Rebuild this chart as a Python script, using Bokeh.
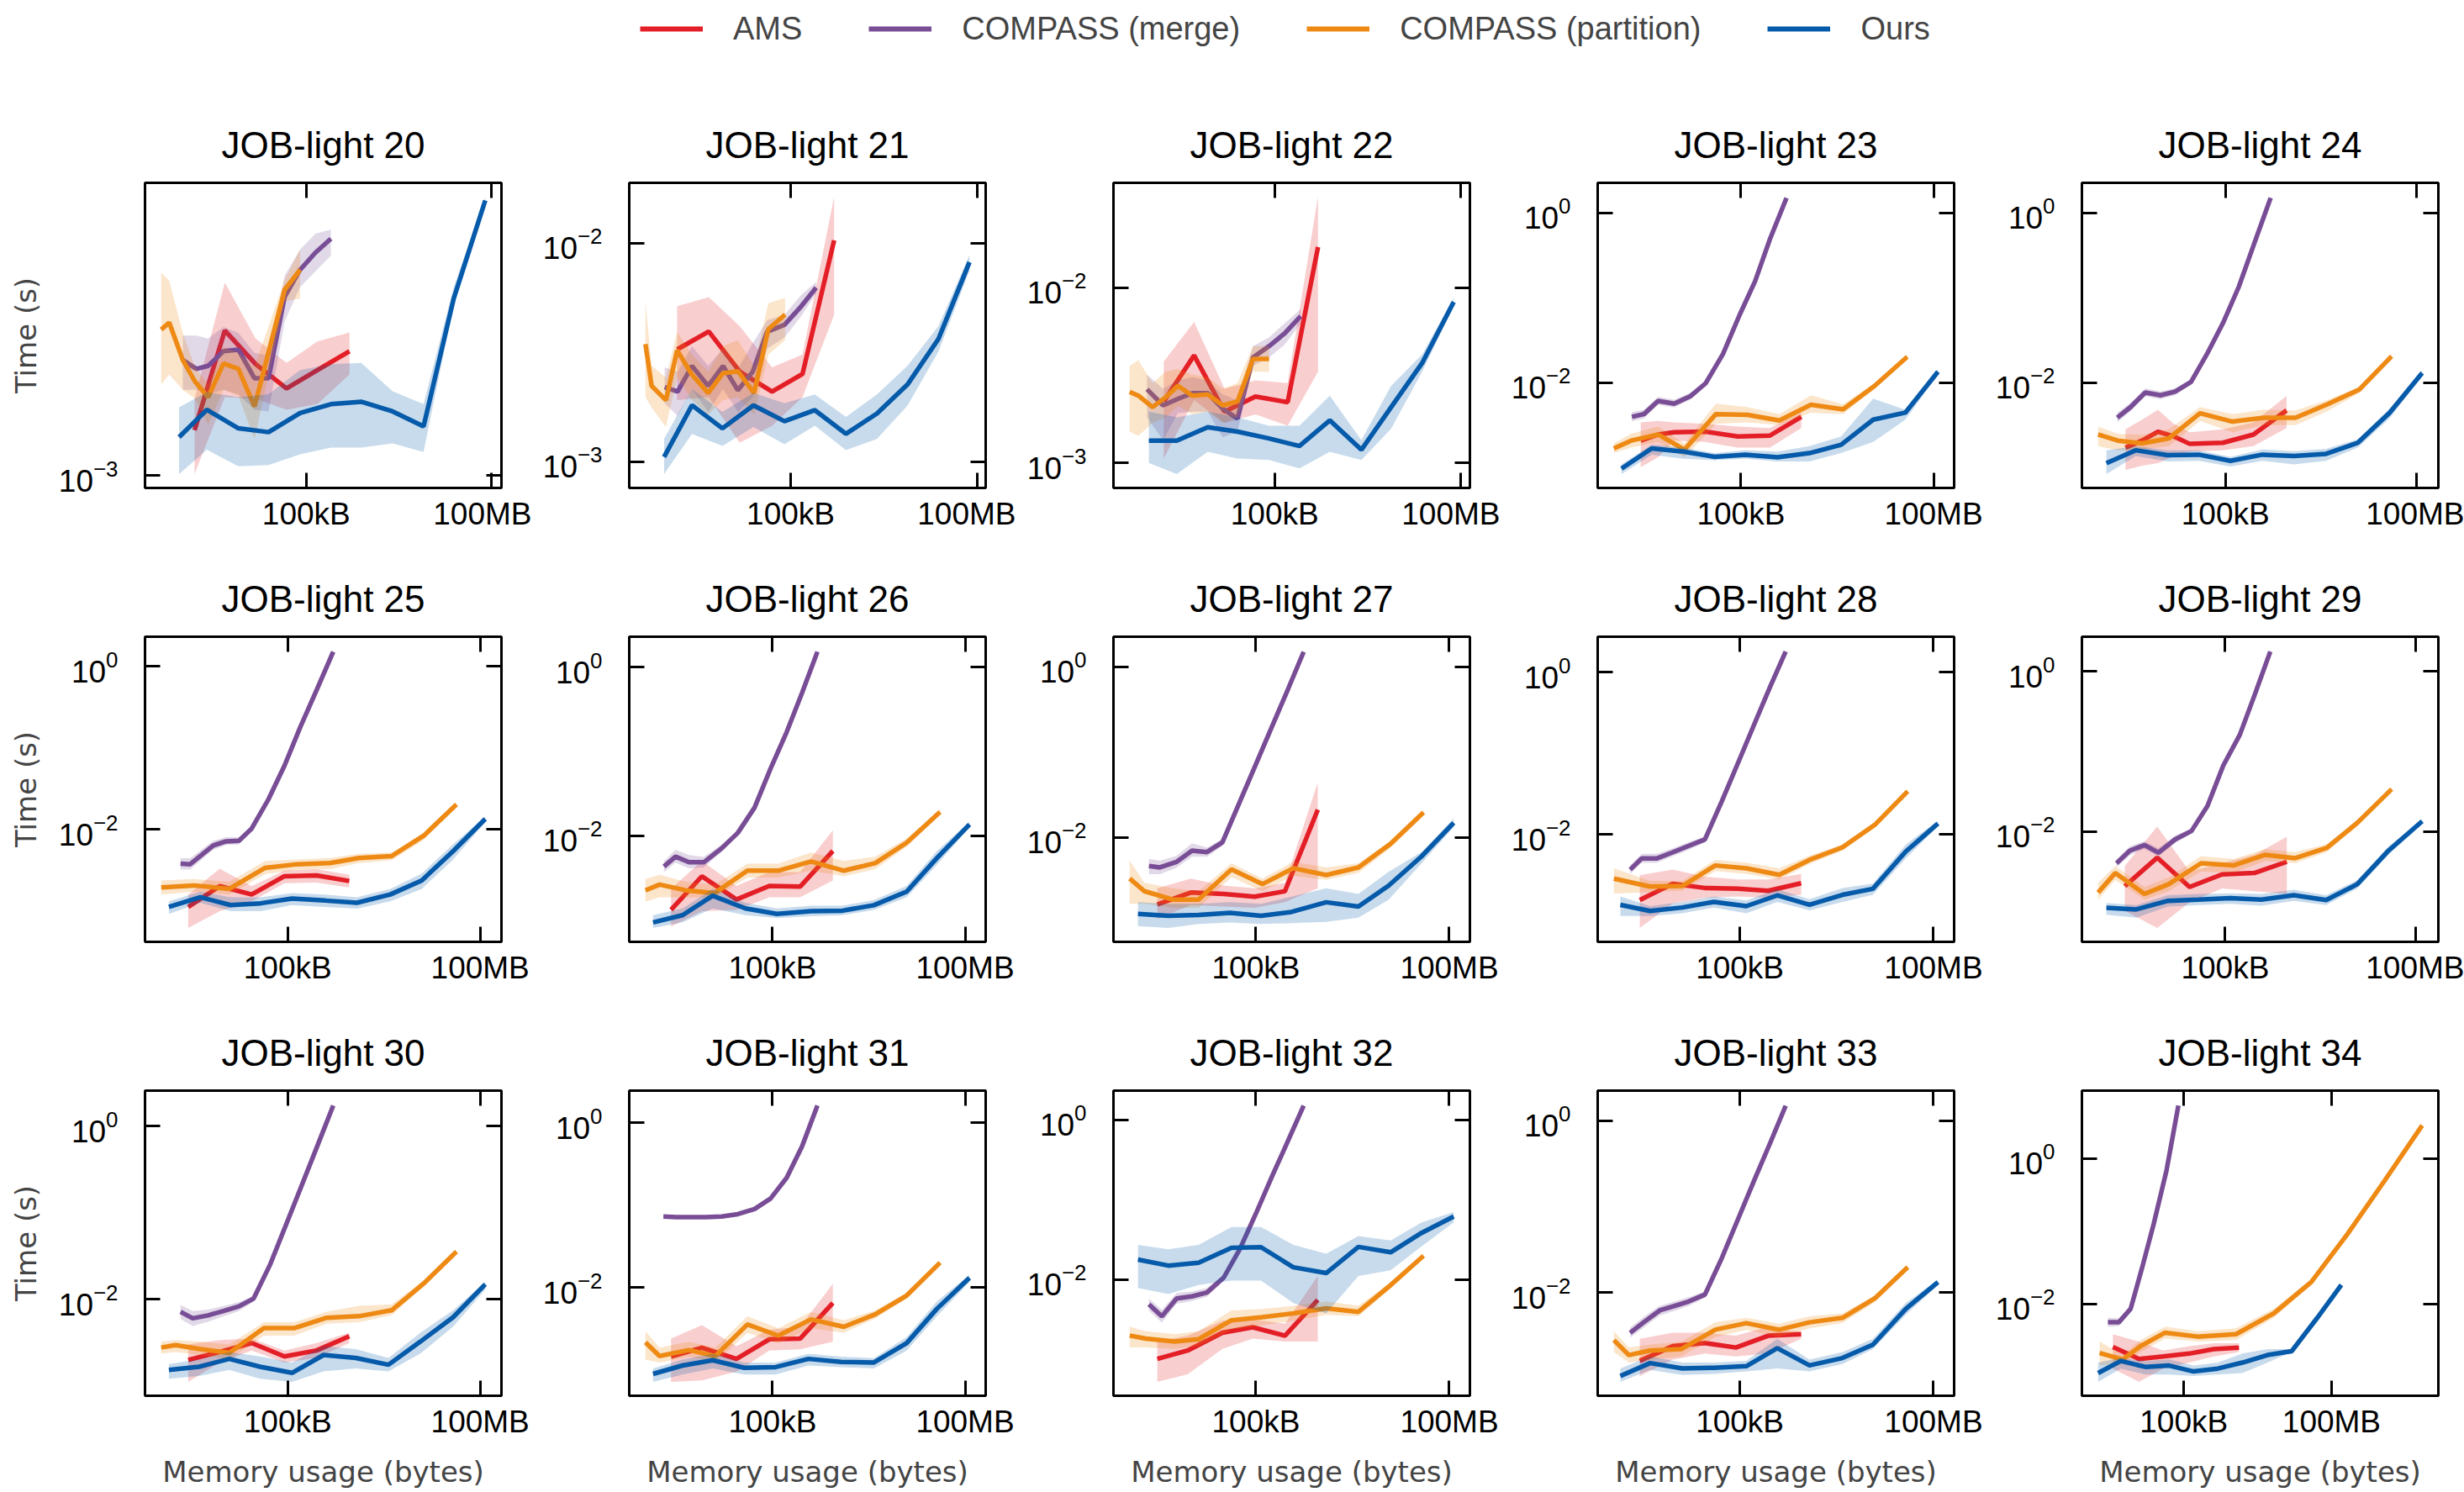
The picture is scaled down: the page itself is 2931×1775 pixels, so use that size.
import math
from bokeh.plotting import figure
from bokeh.models import (Range1d, FixedTicker, LogTickFormatter, CustomJSTickFormatter,
                          LogAxis, Legend, LegendItem)
from bokeh.layouts import gridplot, column
from bokeh.embed import file_html
from bokeh.resources import INLINE

TITLES = ["JOB-light 20", "JOB-light 21", "JOB-light 22", "JOB-light 23", "JOB-light 24",
          "JOB-light 25", "JOB-light 26", "JOB-light 27", "JOB-light 28", "JOB-light 29",
          "JOB-light 30", "JOB-light 31", "JOB-light 32", "JOB-light 33", "JOB-light 34"]
SERIES = ["AMS", "COMPASS (merge)", "COMPASS (partition)", "Ours"]
COLORS = ["#e41e26", "#784d96", "#ee8a14", "#055aaa"]
X_TICKS = [1e5, 1e8]
Y_TICKS = [[1e-3], [1e-3, 1e-2], [1e-3, 1e-2], [1e-2, 1.0], [1e-2, 1.0],
           [1e-2, 1.0], [1e-2, 1.0], [1e-2, 1.0], [1e-2, 1.0], [1e-2, 1.0],
           [1e-2, 1.0], [1e-2, 1.0], [1e-2, 1.0], [1e-2, 1.0], [1e-2, 1.0]]

# ---------------- AMS ----------------
AMS_X = [
    [1.55e3, 4.79e3, 1.51e4, 4.79e4, 1.51e5, 5.01e5],
    [1.48e3, 4.79e3, 1.51e4, 5.01e4, 1.55e5, 5.01e5],
    [1.62e3, 5.01e3, 1.55e4, 4.90e4, 1.62e5, 5.01e5],
    [2.75e3, 5.13e3, 9.12e3, 2.82e4, 8.91e4, 2.82e5, 8.71e5],
    [2.69e3, 4.90e3, 8.71e3, 1.55e4, 2.75e4, 9.12e4, 2.75e5, 9.12e5],
    [2.82e3, 8.71e3, 2.75e4, 8.91e4, 2.82e5, 9.12e5],
    [2.63e3, 7.94e3, 2.75e4, 8.91e4, 2.69e5, 8.71e5],
    [2.95e3, 9.77e3, 3.16e4, 9.55e4, 2.82e5, 9.12e5],
    [2.82e3, 9.12e3, 2.88e4, 9.33e4, 2.75e5, 8.91e5],
    [2.63e3, 8.51e3, 2.75e4, 8.91e4, 2.88e5, 9.33e5],
    [2.82e3, 8.71e3, 2.75e4, 8.91e4, 2.82e5, 9.12e5],
    [2.63e3, 7.94e3, 2.75e4, 8.91e4, 2.69e5, 8.71e5],
    [2.95e3, 8.71e3, 3.02e4, 8.91e4, 2.82e5, 9.12e5],
    [2.82e3, 9.12e3, 2.88e4, 8.71e4, 2.75e5, 8.91e5],
    [3.63e3, 1.23e4, 3.80e4, 1.29e5, 4.07e5, 1.32e6],
]
AMS_Y = [
    [1.40e-3, 2.94e-3, 2.29e-3, 1.91e-3, 2.19e-3, 2.52e-3],
    [3.26e-3, 3.94e-3, 2.58e-3, 2.09e-3, 2.52e-3, 1.03e-2],
    [2.24e-3, 4.10e-3, 1.96e-3, 2.39e-3, 2.22e-3, 1.70e-2],
    [2.08e-3, 2.45e-3, 2.61e-3, 2.65e-3, 2.33e-3, 2.38e-3, 3.96e-3],
    [1.72e-3, 2.08e-3, 2.65e-3, 2.33e-3, 1.90e-3, 1.96e-3, 2.45e-3, 4.72e-3],
    [1.11e-3, 2.00e-3, 1.58e-3, 2.65e-3, 2.71e-3, 2.31e-3],
    [1.32e-3, 3.30e-3, 1.75e-3, 2.53e-3, 2.49e-3, 6.58e-3],
    [1.63e-3, 2.25e-3, 2.17e-3, 2.01e-3, 2.33e-3, 2.11e-2],
    [1.57e-3, 2.49e-3, 2.21e-3, 2.16e-3, 2.04e-3, 2.53e-3],
    [2.09e-3, 4.74e-3, 2.04e-3, 2.93e-3, 3.05e-3, 4.21e-3],
    [1.99e-3, 2.46e-3, 3.12e-3, 2.18e-3, 2.56e-3, 3.74e-3],
    [1.45e-3, 1.86e-3, 1.36e-3, 2.35e-3, 2.39e-3, 6.49e-3],
    [1.02e-3, 1.30e-3, 2.17e-3, 2.54e-3, 1.99e-3, 5.58e-3],
    [1.60e-3, 2.38e-3, 2.58e-3, 2.29e-3, 3.14e-3, 3.27e-3],
    [2.54e-3, 1.74e-3, 1.88e-3, 2.06e-3, 2.38e-3, 2.49e-3],
]
AMS_LO = [
    [1.01e-3, 1.79e-3, 1.77e-3, 1.63e-3, 1.70e-3, 2.12e-3],
    [1.91e-3, 1.97e-3, 1.22e-3, 1.46e-3, 1.97e-3, 4.70e-3],
    [1.06e-3, 2.28e-3, 1.69e-3, 1.89e-3, 1.63e-3, 3.31e-3],
    [1.01e-3, 1.32e-3, 2.08e-3, 2.00e-3, 1.72e-3, 1.72e-3, 2.92e-3],
    [9.38e-4, 1.05e-3, 1.13e-3, 1.37e-3, 1.54e-3, 1.60e-3, 1.79e-3, 2.92e-3],
    [6.12e-4, 9.85e-4, 1.30e-3, 2.17e-3, 2.21e-3, 1.93e-3],
    [8.36e-4, 1.27e-3, 1.32e-3, 1.86e-3, 1.86e-3, 2.94e-3],
    [1.10e-3, 1.60e-3, 1.54e-3, 1.49e-3, 1.73e-3, 2.52e-3],
    [7.11e-4, 1.43e-3, 1.68e-3, 1.74e-3, 1.68e-3, 1.82e-3],
    [1.03e-3, 6.28e-4, 1.31e-3, 1.96e-3, 1.81e-3, 1.67e-3],
    [1.11e-3, 1.86e-3, 2.56e-3, 1.86e-3, 2.10e-3, 3.12e-3],
    [7.15e-4, 7.45e-4, 9.55e-4, 1.71e-3, 1.78e-3, 2.20e-3],
    [5.27e-4, 6.55e-4, 1.36e-3, 1.83e-3, 1.68e-3, 1.68e-3],
    [1.07e-3, 1.66e-3, 1.95e-3, 1.80e-3, 1.95e-3, 2.90e-3],
    [1.28e-3, 8.40e-4, 1.28e-3, 1.55e-3, 1.88e-3, 2.16e-3],
]
AMS_HI = [
    [1.77e-3, 4.20e-3, 2.77e-3, 2.31e-3, 2.71e-3, 2.90e-3],
    [5.14e-3, 5.66e-3, 4.17e-3, 2.70e-3, 3.09e-3, 1.63e-2],
    [3.78e-3, 6.37e-3, 2.65e-3, 2.96e-3, 2.85e-3, 3.29e-2],
    [3.40e-3, 3.54e-3, 3.40e-3, 3.28e-3, 3.04e-3, 2.92e-3, 4.44e-3],
    [2.82e-3, 3.67e-3, 4.79e-3, 3.28e-3, 2.61e-3, 2.82e-3, 3.40e-3, 7.00e-3],
    [1.58e-3, 3.27e-3, 2.00e-3, 3.10e-3, 3.23e-3, 2.75e-3],
    [2.34e-3, 5.02e-3, 2.53e-3, 3.71e-3, 3.71e-3, 1.16e-2],
    [2.52e-3, 3.28e-3, 2.72e-3, 2.52e-3, 2.92e-3, 4.42e-2],
    [3.16e-3, 3.71e-3, 3.04e-3, 2.81e-3, 2.81e-3, 3.29e-3],
    [3.73e-3, 1.16e-2, 3.18e-3, 4.03e-3, 5.14e-3, 8.65e-3],
    [3.00e-3, 3.38e-3, 3.51e-3, 2.56e-3, 3.12e-3, 4.11e-3],
    [2.39e-3, 3.48e-3, 1.94e-3, 3.06e-3, 3.33e-3, 1.11e-2],
    [1.68e-3, 1.99e-3, 3.06e-3, 3.20e-3, 2.81e-3, 1.11e-2],
    [2.90e-3, 3.40e-3, 3.40e-3, 3.14e-3, 3.99e-3, 3.46e-3],
    [3.81e-3, 3.01e-3, 2.26e-3, 2.61e-3, 2.87e-3, 2.87e-3],
]

# ---------------- COMPASS (merge) ----------------
MERGE_X = [
    [1.00e3, 1.66e3, 2.57e3, 4.57e3, 7.94e3, 1.45e4, 2.45e4, 4.47e4, 7.94e4, 1.41e5, 2.51e5],
    [9.33e2, 1.51e3, 2.57e3, 4.68e3, 8.13e3, 1.41e4, 2.45e4, 4.17e4, 7.94e4, 1.48e5, 2.57e5],
    [8.71e2, 1.58e3, 2.75e3, 4.68e3, 8.32e3, 1.45e4, 2.51e4, 4.47e4, 8.13e4, 1.45e5, 2.63e5],
    [2.00e3, 3.09e3, 5.13e3, 9.12e3, 1.62e4, 2.82e4, 5.25e4, 9.55e4, 1.66e5, 2.82e5, 5.13e5],
    [2.00e3, 3.24e3, 5.50e3, 9.55e3, 1.62e4, 2.88e4, 5.13e4, 9.12e4, 1.62e5, 2.88e5, 5.13e5],
    [2.14e3, 3.02e3, 6.92e3, 1.10e4, 1.74e4, 2.75e4, 5.01e4, 8.91e4, 1.58e5, 2.82e5, 5.13e5],
    [2.04e3, 3.09e3, 5.01e3, 8.51e3, 1.62e4, 2.88e4, 5.25e4, 9.33e4, 1.66e5, 2.88e5, 5.01e5],
    [2.19e3, 3.24e3, 5.89e3, 1.02e4, 1.74e4, 3.02e4, 5.62e4, 1.00e5, 1.78e5, 3.16e5, 5.50e5],
    [2.00e3, 3.02e3, 5.13e3, 9.12e3, 1.62e4, 2.88e4, 5.25e4, 9.33e4, 1.66e5, 2.95e5, 5.13e5],
    [1.95e3, 3.16e3, 5.37e3, 8.91e3, 1.62e4, 2.95e4, 5.25e4, 9.33e4, 1.70e5, 2.88e5, 5.13e5],
    [2.14e3, 3.31e3, 5.75e3, 9.77e3, 1.74e4, 2.95e4, 5.37e4, 9.55e4, 1.66e5, 2.82e5, 5.13e5],
    [2.00e3, 3.16e3, 5.25e3, 9.12e3, 1.62e4, 2.88e4, 5.25e4, 9.33e4, 1.66e5, 2.88e5, 5.01e5],
    [2.19e3, 3.47e3, 5.89e3, 1.02e4, 1.74e4, 3.16e4, 5.62e4, 1.00e5, 1.78e5, 3.16e5, 5.50e5],
    [2.00e3, 3.24e3, 5.75e3, 9.77e3, 1.62e4, 2.88e4, 5.25e4, 9.33e4, 1.66e5, 2.95e5, 5.13e5],
    [2.88e3, 4.79e3, 8.32e3, 1.41e4, 2.45e4, 4.47e4, 7.76e4],
]
MERGE_Y = [
    [2.36e-3, 2.21e-3, 2.26e-3, 2.52e-3, 2.55e-3, 2.06e-3, 2.06e-3, 3.78e-3, 4.62e-3, 5.25e-3, 5.82e-3],
    [2.19e-3, 2.09e-3, 2.74e-3, 2.22e-3, 2.74e-3, 2.12e-3, 2.58e-3, 3.93e-3, 4.23e-3, 5.14e-3, 6.25e-3],
    [2.63e-3, 2.13e-3, 2.32e-3, 2.50e-3, 2.50e-3, 2.04e-3, 1.79e-3, 3.99e-3, 4.63e-3, 5.48e-3, 6.86e-3],
    [3.96e-3, 4.27e-3, 6.11e-3, 5.66e-3, 6.90e-3, 9.85e-3, 2.18e-2, 6.32e-2, 1.57e-1, 4.90e-1, 1.51],
    [3.87e-3, 5.17e-3, 7.67e-3, 7.11e-3, 7.85e-3, 1.02e-2, 2.18e-2, 5.03e-2, 1.35e-1, 4.54e-1, 1.51],
    [3.78e-3, 3.72e-3, 6.32e-3, 7.11e-3, 7.23e-3, 1.02e-2, 2.33e-2, 6.03e-2, 1.82e-1, 5.11e-1, 1.52],
    [4.31e-3, 5.64e-3, 4.84e-3, 4.84e-3, 7.10e-3, 1.08e-2, 2.15e-2, 6.25e-2, 1.69e-1, 4.92e-1, 1.52],
    [4.60e-3, 4.43e-3, 5.15e-3, 6.97e-3, 6.71e-3, 8.73e-3, 2.61e-2, 7.21e-2, 2.00e-1, 5.51e-1, 1.50],
    [3.71e-3, 5.09e-3, 5.09e-3, 6.07e-3, 7.28e-3, 8.74e-3, 2.57e-2, 7.57e-2, 2.25e-1, 6.62e-1, 1.79],
    [4.03e-3, 5.80e-3, 6.81e-3, 5.48e-3, 7.98e-3, 1.02e-2, 2.09e-2, 6.70e-2, 1.62e-1, 4.98e-1, 1.77],
    [7.17e-3, 6.02e-3, 6.52e-3, 7.28e-3, 8.27e-3, 1.02e-2, 2.55e-2, 7.42e-2, 2.08e-1, 5.61e-1, 1.73],
    [7.27e-2, 7.15e-2, 7.15e-2, 7.15e-2, 7.27e-2, 7.76e-2, 8.94e-2, 1.20e-1, 2.14e-1, 5.14e-1, 1.61],
    [4.91e-3, 3.48e-3, 5.82e-3, 6.18e-3, 6.92e-3, 1.06e-2, 2.40e-2, 6.71e-2, 1.96e-1, 5.48e-1, 1.50],
    [3.40e-3, 4.50e-3, 6.19e-3, 6.98e-3, 7.87e-3, 9.46e-3, 2.51e-2, 7.07e-2, 2.00e-1, 5.50e-1, 1.49],
    [5.56e-3, 5.56e-3, 8.51e-3, 3.06e-2, 1.26e-1, 6.92e-1, 5.38],
]
MERGE_LO = [
    [1.89e-3, 1.89e-3, 1.83e-3, 1.89e-3, 1.83e-3, 1.63e-3, 1.61e-3, 3.15e-3, 4.06e-3, 4.57e-3, 5.14e-3],
    [1.85e-3, 1.62e-3, 2.15e-3, 1.69e-3, 2.15e-3, 1.69e-3, 1.97e-3, 3.28e-3, 3.70e-3, 4.63e-3, 5.89e-3],
    [1.82e-3, 1.35e-3, 1.93e-3, 1.96e-3, 1.96e-3, 1.40e-3, 1.51e-3, 3.57e-3, 3.99e-3, 4.72e-3, 6.25e-3],
    [3.50e-3, 3.80e-3, 5.50e-3, 5.10e-3, 6.30e-3, 9.20e-3, 2.07e-2, 6.05e-2, 1.51e-1, 4.70e-1, 1.46],
    [3.40e-3, 4.60e-3, 6.90e-3, 6.40e-3, 7.10e-3, 9.50e-3, 2.07e-2, 4.80e-2, 1.30e-1, 4.40e-1, 1.46],
    [3.20e-3, 3.20e-3, 5.60e-3, 6.40e-3, 6.50e-3, 9.40e-3, 2.20e-2, 5.80e-2, 1.76e-1, 4.95e-1, 1.47],
    [3.70e-3, 4.80e-3, 4.10e-3, 4.20e-3, 6.40e-3, 1.00e-2, 2.05e-2, 6.00e-2, 1.63e-1, 4.75e-1, 1.47],
    [3.70e-3, 3.70e-3, 4.40e-3, 5.90e-3, 5.90e-3, 7.90e-3, 2.48e-2, 6.95e-2, 1.93e-1, 5.30e-1, 1.45],
    [3.30e-3, 4.50e-3, 4.50e-3, 5.40e-3, 6.50e-3, 8.00e-3, 2.45e-2, 7.30e-2, 2.18e-1, 6.45e-1, 1.74],
    [3.60e-3, 5.10e-3, 6.10e-3, 4.90e-3, 7.20e-3, 9.50e-3, 2.00e-2, 6.45e-2, 1.56e-1, 4.80e-1, 1.72],
    [5.90e-3, 4.90e-3, 5.50e-3, 6.30e-3, 7.30e-3, 9.40e-3, 2.43e-2, 7.15e-2, 2.01e-1, 5.45e-1, 1.68],
    [6.95e-2, 6.85e-2, 6.85e-2, 6.85e-2, 6.95e-2, 7.40e-2, 8.60e-2, 1.15e-1, 2.06e-1, 4.98e-1, 1.56],
    [4.10e-3, 2.90e-3, 5.00e-3, 5.40e-3, 6.10e-3, 9.70e-3, 2.28e-2, 6.45e-2, 1.89e-1, 5.30e-1, 1.45],
    [3.00e-3, 3.90e-3, 5.40e-3, 6.10e-3, 7.00e-3, 8.70e-3, 2.40e-2, 6.80e-2, 1.93e-1, 5.33e-1, 1.44],
    [4.80e-3, 4.90e-3, 7.80e-3, 2.93e-2, 1.21e-1, 6.70e-1, 5.20],
]
MERGE_HI = [
    [2.83e-3, 2.83e-3, 2.77e-3, 3.02e-3, 2.89e-3, 2.49e-3, 2.44e-3, 4.43e-3, 5.37e-3, 6.04e-3, 6.23e-3],
    [2.70e-3, 2.58e-3, 3.38e-3, 2.74e-3, 3.28e-3, 2.66e-3, 3.48e-3, 4.43e-3, 4.70e-3, 5.80e-3, 6.64e-3],
    [3.19e-3, 2.65e-3, 2.96e-3, 3.08e-3, 2.96e-3, 2.46e-3, 2.28e-3, 4.63e-3, 5.19e-3, 6.25e-3, 7.53e-3],
    [4.50e-3, 4.80e-3, 6.80e-3, 6.30e-3, 7.60e-3, 1.05e-2, 2.30e-2, 6.60e-2, 1.63e-1, 5.10e-1, 1.56],
    [4.40e-3, 5.80e-3, 8.60e-3, 7.90e-3, 8.60e-3, 1.10e-2, 2.30e-2, 5.25e-2, 1.40e-1, 4.70e-1, 1.56],
    [4.40e-3, 4.40e-3, 7.20e-3, 8.00e-3, 8.00e-3, 1.10e-2, 2.45e-2, 6.30e-2, 1.88e-1, 5.30e-1, 1.57],
    [5.00e-3, 6.80e-3, 5.90e-3, 5.60e-3, 7.90e-3, 1.17e-2, 2.27e-2, 6.50e-2, 1.75e-1, 5.10e-1, 1.57],
    [5.60e-3, 5.30e-3, 6.10e-3, 8.50e-3, 7.60e-3, 9.60e-3, 2.75e-2, 7.50e-2, 2.07e-1, 5.70e-1, 1.55],
    [4.20e-3, 5.80e-3, 5.80e-3, 6.80e-3, 8.10e-3, 9.50e-3, 2.70e-2, 7.85e-2, 2.32e-1, 6.80e-1, 1.84],
    [4.50e-3, 6.60e-3, 7.60e-3, 6.20e-3, 8.90e-3, 1.10e-2, 2.20e-2, 7.00e-2, 1.68e-1, 5.15e-1, 1.82],
    [8.60e-3, 7.30e-3, 7.60e-3, 8.30e-3, 9.30e-3, 1.10e-2, 2.67e-2, 7.70e-2, 2.15e-1, 5.80e-1, 1.78],
    [7.60e-2, 7.45e-2, 7.45e-2, 7.45e-2, 7.60e-2, 8.10e-2, 9.30e-2, 1.25e-1, 2.22e-1, 5.30e-1, 1.66],
    [5.80e-3, 4.20e-3, 6.80e-3, 7.10e-3, 7.90e-3, 1.15e-2, 2.52e-2, 7.00e-2, 2.03e-1, 5.65e-1, 1.55],
    [3.90e-3, 5.20e-3, 7.00e-3, 7.90e-3, 8.80e-3, 1.03e-2, 2.63e-2, 7.35e-2, 2.07e-1, 5.68e-1, 1.54],
    [6.40e-3, 6.30e-3, 9.30e-3, 3.20e-2, 1.31e-1, 7.15e-1, 5.55],
]

# ---------------- COMPASS (partition) ----------------
PART_X = [
    [4.47e2, 6.03e2, 1.00e3, 1.58e3, 2.57e3, 4.57e3, 7.94e3, 1.45e4, 4.47e4, 7.94e4],
    [4.57e2, 5.75e2, 9.77e2, 1.48e3, 2.57e3, 4.68e3, 8.13e3, 1.41e4, 2.57e4, 4.37e4, 8.13e4],
    [4.57e2, 6.31e2, 1.07e3, 1.74e3, 2.75e3, 4.68e3, 8.32e3, 1.45e4, 2.51e4, 4.47e4, 8.13e4],
    [1.05e3, 1.95e3, 5.13e3, 1.32e4, 4.07e4, 1.26e5, 3.98e5, 1.23e6, 3.89e6, 1.20e7, 3.89e7],
    [1.00e3, 2.04e3, 4.90e3, 1.29e4, 3.98e4, 1.29e5, 3.98e5, 1.26e6, 3.98e6, 1.26e7, 4.07e7],
    [1.07e3, 3.47e3, 1.23e4, 4.47e4, 1.41e5, 4.57e5, 1.29e6, 4.17e6, 1.32e7, 4.27e7],
    [1.05e3, 1.74e3, 4.47e3, 1.26e4, 4.07e4, 1.23e5, 3.98e5, 1.29e6, 3.98e6, 1.23e7, 4.07e7],
    [1.10e3, 1.86e3, 5.13e3, 1.29e4, 4.17e4, 1.26e5, 3.80e5, 1.23e6, 3.89e6, 1.23e7, 3.98e7],
    [1.12e3, 4.07e3, 1.29e4, 4.17e4, 1.26e5, 4.07e5, 1.20e6, 3.89e6, 1.23e7, 3.98e7],
    [1.00e3, 1.86e3, 5.37e3, 1.29e4, 4.17e4, 1.35e5, 4.27e5, 1.26e6, 3.98e6, 1.20e7, 4.17e7],
    [1.07e3, 1.78e3, 4.37e3, 1.23e4, 4.27e4, 1.26e5, 4.07e5, 1.29e6, 4.17e6, 1.32e7, 4.27e7],
    [1.05e3, 1.74e3, 5.01e3, 1.29e4, 4.07e4, 1.23e5, 3.98e5, 1.29e6, 3.98e6, 1.23e7, 4.07e7],
    [1.10e3, 1.95e3, 5.50e3, 1.29e4, 4.17e4, 1.26e5, 3.80e5, 1.23e6, 3.89e6, 1.23e7, 3.98e7],
    [1.12e3, 1.91e3, 4.07e3, 1.23e4, 4.17e4, 1.26e5, 4.07e5, 1.20e6, 3.89e6, 1.23e7, 3.98e7],
    [1.95e3, 5.75e3, 1.32e4, 4.17e4, 1.91e5, 1.15e6, 6.76e6, 3.89e7, 2.09e8, 1.20e9, 6.92e9],
]
PART_Y = [
    [2.96e-3, 3.12e-3, 2.36e-3, 2.01e-3, 1.79e-3, 2.30e-3, 2.21e-3, 1.67e-3, 3.98e-3, 4.62e-3],
    [3.45e-3, 2.22e-3, 1.91e-3, 3.23e-3, 2.50e-3, 2.06e-3, 2.54e-3, 2.59e-3, 2.06e-3, 4.04e-3, 4.70e-3],
    [2.54e-3, 2.42e-3, 2.08e-3, 2.37e-3, 2.75e-3, 2.42e-3, 2.46e-3, 2.13e-3, 2.24e-3, 3.92e-3, 3.92e-3],
    [1.68e-3, 2.08e-3, 2.45e-3, 1.63e-3, 4.27e-3, 4.18e-3, 3.59e-3, 5.50e-3, 4.86e-3, 9.13e-3, 2.02e-2],
    [2.45e-3, 2.08e-3, 1.93e-3, 2.21e-3, 4.37e-3, 3.48e-3, 3.87e-3, 3.87e-3, 5.57e-3, 8.28e-3, 2.05e-2],
    [1.93e-3, 2.04e-3, 1.85e-3, 3.36e-3, 3.72e-3, 3.84e-3, 4.43e-3, 4.68e-3, 8.34e-3, 2.02e-2],
    [2.25e-3, 2.63e-3, 2.25e-3, 2.09e-3, 3.85e-3, 3.85e-3, 4.95e-3, 3.85e-3, 4.73e-3, 8.26e-3, 1.91e-2],
    [3.28e-3, 2.33e-3, 1.86e-3, 1.86e-3, 4.21e-3, 2.82e-3, 4.34e-3, 3.61e-3, 4.43e-3, 8.41e-3, 1.96e-2],
    [2.88e-3, 2.30e-3, 2.34e-3, 4.18e-3, 3.86e-3, 3.21e-3, 4.90e-3, 7.00e-3, 1.32e-2, 3.42e-2],
    [1.74e-3, 3.05e-3, 1.67e-3, 2.21e-3, 4.03e-3, 3.79e-3, 5.14e-3, 4.67e-3, 6.28e-3, 1.29e-2, 3.39e-2],
    [2.77e-3, 2.95e-3, 2.66e-3, 2.40e-3, 4.64e-3, 4.64e-3, 6.12e-3, 6.37e-3, 7.46e-3, 1.52e-2, 3.56e-2],
    [2.16e-3, 1.47e-3, 1.74e-3, 1.47e-3, 3.56e-3, 2.60e-3, 4.10e-3, 3.33e-3, 4.72e-3, 7.98e-3, 2.00e-2],
    [2.00e-3, 1.83e-3, 1.68e-3, 1.80e-3, 3.11e-3, 3.40e-3, 3.79e-3, 4.39e-3, 3.96e-3, 8.57e-3, 1.99e-2],
    [2.79e-3, 1.87e-3, 2.11e-3, 2.19e-3, 3.69e-3, 4.40e-3, 3.69e-3, 4.50e-3, 5.07e-3, 8.53e-3, 1.97e-2],
    [2.10e-3, 1.71e-3, 2.61e-3, 4.00e-3, 3.53e-3, 3.81e-3, 7.40e-3, 2.00e-2, 9.06e-2, 4.97e-1, 2.86],
]
PART_LO = [
    [1.97e-3, 2.12e-3, 1.89e-3, 1.77e-3, 1.46e-3, 1.89e-3, 1.81e-3, 1.31e-3, 3.66e-3, 3.73e-3],
    [1.97e-3, 1.77e-3, 1.44e-3, 2.43e-3, 1.91e-3, 1.64e-3, 1.91e-3, 1.97e-3, 1.64e-3, 3.09e-3, 3.59e-3],
    [1.51e-3, 1.43e-3, 1.69e-3, 1.82e-3, 2.12e-3, 1.89e-3, 1.96e-3, 1.69e-3, 1.82e-3, 3.31e-3, 3.31e-3],
    [1.48e-3, 1.72e-3, 2.00e-3, 1.32e-3, 3.28e-3, 3.40e-3, 3.16e-3, 4.44e-3, 4.27e-3, 8.47e-3, 1.90e-2],
    [1.79e-3, 1.60e-3, 1.63e-3, 1.79e-3, 3.54e-3, 2.61e-3, 3.16e-3, 3.16e-3, 4.61e-3, 7.55e-3, 1.90e-2],
    [1.58e-3, 1.71e-3, 1.58e-3, 2.80e-3, 3.18e-3, 3.23e-3, 3.84e-3, 4.16e-3, 7.40e-3, 1.87e-2],
    [1.66e-3, 1.86e-3, 1.86e-3, 1.86e-3, 3.18e-3, 3.18e-3, 3.85e-3, 3.30e-3, 4.00e-3, 7.37e-3, 1.77e-2],
    [1.66e-3, 1.66e-3, 1.49e-3, 1.49e-3, 3.40e-3, 2.33e-3, 3.53e-3, 3.16e-3, 3.81e-3, 7.51e-3, 1.81e-2],
    [1.89e-3, 1.96e-3, 2.04e-3, 3.56e-3, 3.29e-3, 2.81e-3, 4.35e-3, 6.36e-3, 1.22e-2, 3.22e-2],
    [1.42e-3, 2.49e-3, 1.42e-3, 1.81e-3, 3.18e-3, 3.05e-3, 4.31e-3, 4.03e-3, 5.57e-3, 1.16e-2, 3.13e-2],
    [2.36e-3, 2.46e-3, 2.27e-3, 2.02e-3, 3.80e-3, 3.80e-3, 5.22e-3, 5.43e-3, 6.52e-3, 1.41e-2, 3.37e-2],
    [1.33e-3, 1.23e-3, 1.45e-3, 1.23e-3, 2.82e-3, 2.11e-3, 3.20e-3, 2.82e-3, 4.21e-3, 7.35e-3, 1.88e-2],
    [1.42e-3, 1.42e-3, 1.36e-3, 1.48e-3, 2.37e-3, 2.69e-3, 3.06e-3, 3.64e-3, 3.48e-3, 7.73e-3, 1.85e-2],
    [2.03e-3, 1.53e-3, 1.66e-3, 1.80e-3, 3.02e-3, 3.69e-3, 3.02e-3, 3.84e-3, 4.40e-3, 7.69e-3, 1.82e-2],
    [1.41e-3, 1.48e-3, 2.16e-3, 3.31e-3, 3.01e-3, 3.16e-3, 6.41e-3, 1.82e-2, 8.39e-2, 4.60e-1, 2.67],
]
PART_HI = [
    [4.53e-3, 4.25e-3, 2.89e-3, 2.24e-3, 1.97e-3, 2.60e-3, 2.49e-3, 2.24e-3, 4.29e-3, 5.37e-3],
    [5.37e-3, 2.74e-3, 2.43e-3, 3.93e-3, 3.09e-3, 2.58e-3, 3.38e-3, 3.59e-3, 2.74e-3, 5.30e-3, 5.62e-3],
    [3.57e-3, 3.85e-3, 2.85e-3, 3.31e-3, 3.43e-3, 3.19e-3, 3.08e-3, 2.65e-3, 2.85e-3, 4.63e-3, 4.63e-3],
    [1.93e-3, 2.51e-3, 3.04e-3, 1.93e-3, 5.66e-3, 5.17e-3, 4.27e-3, 7.11e-3, 5.57e-3, 9.85e-3, 2.15e-2],
    [3.04e-3, 2.51e-3, 2.42e-3, 2.82e-3, 5.17e-3, 4.27e-3, 4.79e-3, 4.72e-3, 6.25e-3, 8.93e-3, 2.18e-2],
    [2.35e-3, 2.44e-3, 2.26e-3, 4.09e-3, 4.26e-3, 4.43e-3, 4.99e-3, 5.19e-3, 9.02e-3, 2.15e-2],
    [3.06e-3, 3.43e-3, 2.84e-3, 2.63e-3, 4.66e-3, 4.66e-3, 6.32e-3, 5.02e-3, 5.64e-3, 9.27e-3, 2.07e-2],
    [5.35e-3, 2.92e-3, 2.52e-3, 2.33e-3, 4.97e-3, 3.28e-3, 5.15e-3, 4.43e-3, 4.97e-3, 9.07e-3, 2.08e-2],
    [3.86e-3, 2.70e-3, 2.70e-3, 4.90e-3, 4.52e-3, 3.86e-3, 5.51e-3, 7.57e-3, 1.43e-2, 3.56e-2],
    [2.30e-3, 3.73e-3, 2.04e-3, 2.70e-3, 4.94e-3, 4.56e-3, 6.03e-3, 5.57e-3, 6.97e-3, 1.40e-2, 3.58e-2],
    [3.24e-3, 3.38e-3, 3.24e-3, 3.00e-3, 5.43e-3, 5.43e-3, 7.17e-3, 8.40e-3, 8.74e-3, 1.65e-2, 3.73e-2],
    [2.94e-3, 1.86e-3, 2.20e-3, 1.86e-3, 4.46e-3, 3.20e-3, 5.05e-3, 4.00e-3, 5.27e-3, 8.69e-3, 2.11e-2],
    [2.58e-3, 2.27e-3, 2.08e-3, 2.27e-3, 4.13e-3, 4.31e-3, 4.70e-3, 5.35e-3, 4.70e-3, 9.34e-3, 2.11e-2],
    [3.54e-3, 2.29e-3, 2.47e-3, 2.68e-3, 4.50e-3, 5.07e-3, 4.33e-3, 5.28e-3, 5.72e-3, 9.23e-3, 2.10e-2],
    [3.01e-3, 1.97e-3, 3.16e-3, 4.83e-3, 4.19e-3, 4.60e-3, 8.51e-3, 2.19e-2, 9.49e-2, 5.21e-1, 2.99],
]

# ---------------- Ours ----------------
OURS_X = [
    [8.71e2, 2.45e3, 7.94e3, 2.45e4, 7.94e4, 2.51e5, 7.76e5, 2.51e6, 7.94e6, 2.45e7, 7.94e7],
    [9.12e2, 2.57e3, 7.94e3, 2.51e4, 7.94e4, 2.45e5, 7.76e5, 2.45e6, 7.59e6, 2.40e7, 7.59e7],
    [9.33e2, 2.63e3, 8.32e3, 2.51e4, 8.13e4, 2.51e5, 7.76e5, 2.51e6, 7.59e6, 2.40e7, 7.76e7],
    [1.38e3, 4.07e3, 1.26e4, 3.89e4, 1.17e5, 3.72e5, 1.17e6, 3.63e6, 1.15e7, 3.63e7, 1.17e8],
    [1.35e3, 3.89e3, 1.23e4, 3.80e4, 1.20e5, 3.80e5, 1.20e6, 3.80e6, 1.20e7, 3.80e7, 1.23e8],
    [1.41e3, 4.37e3, 1.29e4, 3.80e4, 1.17e5, 3.80e5, 1.20e6, 3.98e6, 1.23e7, 3.80e7, 1.20e8],
    [1.38e3, 3.98e3, 1.17e4, 3.80e4, 1.17e5, 3.98e5, 1.23e6, 3.80e6, 1.23e7, 3.63e7, 1.17e8],
    [1.48e3, 4.37e3, 1.29e4, 3.98e4, 1.20e5, 3.55e5, 1.23e6, 3.89e6, 1.15e7, 3.72e7, 1.17e8],
    [1.41e3, 4.07e3, 1.29e4, 3.98e4, 1.26e5, 3.80e5, 1.20e6, 3.89e6, 1.15e7, 3.72e7, 1.17e8],
    [1.35e3, 3.98e3, 1.26e4, 3.80e4, 1.20e5, 3.72e5, 1.20e6, 3.89e6, 1.20e7, 3.72e7, 1.26e8],
    [1.41e3, 4.17e3, 1.23e4, 3.72e4, 1.17e5, 3.63e5, 1.15e6, 3.72e6, 1.17e7, 3.80e7, 1.20e8],
    [1.38e3, 3.98e3, 1.17e4, 3.63e4, 1.12e5, 3.63e5, 1.17e6, 3.80e6, 1.23e7, 3.63e7, 1.17e8],
    [1.48e3, 4.37e3, 1.29e4, 4.17e4, 1.20e5, 3.80e5, 1.23e6, 3.89e6, 1.23e7, 3.72e7, 1.17e8],
    [1.41e3, 4.07e3, 1.29e4, 3.98e4, 1.26e5, 3.80e5, 1.20e6, 3.89e6, 1.15e7, 3.72e7, 1.17e8],
    [1.82e3, 5.25e3, 1.66e4, 5.01e4, 1.58e5, 4.90e5, 1.55e6, 5.01e6, 1.55e7, 5.13e7, 1.58e8],
]
OURS_Y = [
    [1.33e-3, 1.63e-3, 1.42e-3, 1.38e-3, 1.59e-3, 1.70e-3, 1.73e-3, 1.61e-3, 1.44e-3, 3.73e-3, 7.74e-3],
    [1.05e-3, 1.81e-3, 1.42e-3, 1.81e-3, 1.53e-3, 1.72e-3, 1.34e-3, 1.66e-3, 2.25e-3, 3.64e-3, 8.18e-3],
    [1.34e-3, 1.34e-3, 1.60e-3, 1.51e-3, 1.38e-3, 1.25e-3, 1.75e-3, 1.19e-3, 2.08e-3, 3.71e-3, 8.27e-3],
    [9.73e-4, 1.68e-3, 1.54e-3, 1.34e-3, 1.42e-3, 1.32e-3, 1.48e-3, 1.86e-3, 3.67e-3, 4.44e-3, 1.35e-2],
    [1.13e-3, 1.60e-3, 1.40e-3, 1.42e-3, 1.20e-3, 1.42e-3, 1.37e-3, 1.45e-3, 1.96e-3, 4.44e-3, 1.30e-2],
    [1.11e-3, 1.46e-3, 1.17e-3, 1.23e-3, 1.41e-3, 1.33e-3, 1.25e-3, 1.58e-3, 2.35e-3, 5.40e-3, 1.34e-2],
    [9.37e-4, 1.14e-3, 1.94e-3, 1.37e-3, 1.18e-3, 1.27e-3, 1.29e-3, 1.50e-3, 2.17e-3, 5.43e-3, 1.36e-2],
    [1.26e-3, 1.20e-3, 1.23e-3, 1.30e-3, 1.20e-3, 1.33e-3, 1.73e-3, 1.54e-3, 2.72e-3, 5.98e-3, 1.48e-2],
    [1.37e-3, 1.15e-3, 1.27e-3, 1.49e-3, 1.32e-3, 1.79e-3, 1.37e-3, 1.82e-3, 2.16e-3, 6.21e-3, 1.37e-2],
    [1.12e-3, 1.07e-3, 1.37e-3, 1.42e-3, 1.48e-3, 1.42e-3, 1.61e-3, 1.40e-3, 2.21e-3, 5.80e-3, 1.35e-2],
    [1.53e-3, 1.66e-3, 2.05e-3, 1.66e-3, 1.41e-3, 2.27e-3, 2.10e-3, 1.75e-3, 3.24e-3, 6.21e-3, 1.49e-2],
    [8.94e-4, 1.13e-3, 1.31e-3, 1.06e-3, 1.08e-3, 1.36e-3, 1.25e-3, 1.23e-3, 2.11e-3, 5.50e-3, 1.31e-2],
    [1.78e-2, 1.50e-2, 1.63e-2, 2.50e-2, 2.55e-2, 1.43e-2, 1.21e-2, 2.57e-2, 2.20e-2, 3.85e-2, 6.17e-2],
    [1.07e-3, 1.51e-3, 1.31e-3, 1.33e-3, 1.39e-3, 2.25e-3, 1.42e-3, 1.73e-3, 2.47e-3, 6.44e-3, 1.32e-2],
    [1.11e-3, 1.63e-3, 1.35e-3, 1.41e-3, 1.17e-3, 1.28e-3, 1.55e-3, 1.97e-3, 2.22e-3, 6.41e-3, 1.82e-2],
]
OURS_LO = [
    [1.01e-3, 1.21e-3, 1.07e-3, 1.08e-3, 1.17e-3, 1.23e-3, 1.23e-3, 1.27e-3, 1.19e-3, 3.58e-3, 7.62e-3],
    [8.77e-4, 1.34e-3, 1.18e-3, 1.44e-3, 1.20e-3, 1.46e-3, 1.13e-3, 1.27e-3, 1.80e-3, 3.19e-3, 7.48e-3],
    [1.00e-3, 8.65e-4, 1.16e-3, 1.06e-3, 1.04e-3, 9.31e-4, 1.16e-3, 1.04e-3, 1.57e-3, 3.31e-3, 7.82e-3],
    [8.38e-4, 1.42e-3, 1.27e-3, 1.22e-3, 1.27e-3, 1.18e-3, 1.18e-3, 1.48e-3, 2.00e-3, 3.67e-3, 1.24e-2],
    [8.38e-4, 1.37e-3, 1.18e-3, 1.20e-3, 1.03e-3, 1.20e-3, 1.09e-3, 1.20e-3, 1.72e-3, 3.82e-3, 1.19e-2],
    [9.10e-4, 1.25e-3, 9.85e-4, 9.85e-4, 1.17e-3, 1.11e-3, 1.06e-3, 1.30e-3, 1.85e-3, 4.26e-3, 1.22e-2],
    [8.04e-4, 9.37e-4, 1.37e-3, 1.14e-3, 1.05e-3, 1.11e-3, 1.14e-3, 1.32e-3, 1.86e-3, 4.49e-3, 1.26e-2],
    [9.10e-4, 8.63e-4, 9.60e-4, 1.00e-3, 9.60e-4, 9.82e-4, 1.02e-3, 1.14e-3, 1.86e-3, 4.97e-3, 1.32e-2],
    [1.00e-3, 1.00e-3, 1.08e-3, 1.27e-3, 1.08e-3, 1.49e-3, 1.17e-3, 1.49e-3, 1.82e-3, 5.09e-3, 1.27e-2],
    [9.17e-4, 8.45e-4, 1.16e-3, 1.21e-3, 1.26e-3, 1.19e-3, 1.37e-3, 1.21e-3, 1.96e-3, 5.14e-3, 1.24e-2],
    [1.21e-3, 1.30e-3, 1.53e-3, 1.21e-3, 1.11e-3, 1.47e-3, 1.59e-3, 1.47e-3, 2.36e-3, 4.82e-3, 1.30e-2],
    [7.15e-4, 8.80e-4, 1.04e-3, 8.80e-4, 8.80e-4, 1.13e-3, 1.08e-3, 1.04e-3, 1.71e-3, 4.46e-3, 1.16e-2],
    [7.87e-3, 6.62e-3, 8.57e-3, 9.75e-3, 9.75e-3, 5.11e-3, 3.79e-3, 1.11e-2, 1.31e-2, 2.61e-2, 5.19e-2],
    [9.12e-4, 1.26e-3, 1.10e-3, 1.13e-3, 1.21e-3, 1.31e-3, 1.21e-3, 1.47e-3, 2.19e-3, 5.50e-3, 1.22e-2],
    [8.40e-4, 1.28e-3, 1.06e-3, 1.06e-3, 1.01e-3, 1.06e-3, 1.11e-3, 1.55e-3, 2.16e-3, 6.11e-3, 1.73e-2],
]
OURS_HI = [
    [1.66e-3, 1.86e-3, 1.79e-3, 1.83e-3, 2.19e-3, 2.29e-3, 2.31e-3, 1.87e-3, 1.70e-3, 4.06e-3, 7.96e-3],
    [1.27e-3, 2.15e-3, 1.69e-3, 2.06e-3, 1.85e-3, 2.03e-3, 1.60e-3, 2.03e-3, 2.74e-3, 4.17e-3, 8.82e-3],
    [1.96e-3, 1.82e-3, 1.96e-3, 1.82e-3, 1.63e-3, 1.63e-3, 2.42e-3, 1.35e-3, 2.75e-3, 4.15e-3, 8.74e-3],
    [1.09e-3, 1.86e-3, 1.72e-3, 1.48e-3, 1.60e-3, 1.54e-3, 1.79e-3, 2.33e-3, 6.49e-3, 4.79e-3, 1.44e-2],
    [1.60e-3, 1.79e-3, 1.60e-3, 1.60e-3, 1.34e-3, 1.63e-3, 1.56e-3, 1.66e-3, 2.16e-3, 4.98e-3, 1.41e-2],
    [1.30e-3, 1.71e-3, 1.46e-3, 1.46e-3, 1.64e-3, 1.58e-3, 1.46e-3, 1.85e-3, 2.86e-3, 6.58e-3, 1.43e-2],
    [1.14e-3, 1.37e-3, 2.34e-3, 1.60e-3, 1.37e-3, 1.48e-3, 1.48e-3, 1.73e-3, 2.53e-3, 6.58e-3, 1.47e-2],
    [1.73e-3, 1.66e-3, 1.66e-3, 1.73e-3, 1.66e-3, 2.01e-3, 2.52e-3, 2.17e-3, 3.96e-3, 6.71e-3, 1.66e-2],
    [1.74e-3, 1.32e-3, 1.49e-3, 1.74e-3, 1.55e-3, 2.13e-3, 1.61e-3, 2.21e-3, 2.49e-3, 7.57e-3, 1.49e-2],
    [1.29e-3, 1.21e-3, 1.61e-3, 1.67e-3, 1.70e-3, 1.67e-3, 1.88e-3, 1.61e-3, 2.49e-3, 6.53e-3, 1.44e-2],
    [1.79e-3, 2.02e-3, 2.46e-3, 2.18e-3, 1.86e-3, 2.88e-3, 2.66e-3, 2.10e-3, 4.11e-3, 7.46e-3, 1.58e-2],
    [1.04e-3, 1.33e-3, 1.57e-3, 1.23e-3, 1.23e-3, 1.57e-3, 1.45e-3, 1.39e-3, 2.49e-3, 6.77e-3, 1.43e-2],
    [2.73e-2, 2.40e-2, 2.73e-2, 4.56e-2, 4.56e-2, 2.73e-2, 2.11e-2, 3.52e-2, 3.10e-2, 5.19e-2, 7.00e-2],
    [1.31e-3, 1.80e-3, 1.53e-3, 1.53e-3, 1.60e-3, 2.90e-3, 1.66e-3, 2.03e-3, 2.90e-3, 7.56e-3, 1.41e-2],
    [1.55e-3, 1.79e-3, 1.63e-3, 1.71e-3, 1.41e-3, 1.55e-3, 2.06e-3, 2.38e-3, 2.38e-3, 6.73e-3, 1.90e-2],
]

DATA = [
    (AMS_X, AMS_Y, AMS_LO, AMS_HI),
    (MERGE_X, MERGE_Y, MERGE_LO, MERGE_HI),
    (PART_X, PART_Y, PART_LO, PART_HI),
    (OURS_X, OURS_Y, OURS_LO, OURS_HI),
]

FONT = "Liberation Sans"
LABEL_FONT = "DejaVu Sans"
FRAME_W, FRAME_H = 424, 363


def log_range(vals):
    a = math.log10(min(vals))
    b = math.log10(max(vals))
    pad = 0.05 * (b - a)
    return Range1d(start=10 ** (a - pad), end=10 ** (b + pad))


def bytes_formatter():
    return CustomJSTickFormatter(code="""
        const units = ["B", "kB", "MB", "GB", "TB"];
        const e = Math.round(Math.log10(tick));
        const k = Math.floor(e / 3);
        return String(Math.round(Math.pow(10, e - 3 * k))) + units[k];
    """)


def blank_formatter():
    return CustomJSTickFormatter(code="return '';")


def style_axis(ax, labels=True):
    ax.axis_line_color = None
    ax.major_tick_in = 18
    ax.major_tick_out = 0
    ax.major_tick_line_width = 3
    ax.major_tick_line_color = "black"
    ax.minor_tick_line_color = None
    if labels:
        ax.major_label_text_font = FONT
        ax.major_label_text_font_size = "37px"
        ax.major_label_text_color = "black"
    else:
        ax.formatter = blank_formatter()
        ax.major_label_text_font_size = "1px"
        ax.major_label_standoff = 0


rows = []
for r in range(3):
    row = []
    for c in range(5):
        i = r * 5 + c
        xs_all, ys_all = [], []
        for (X, Y, LO, HI) in DATA:
            xs_all += X[i]
            ys_all += Y[i] + LO[i] + HI[i]
        left = 172 if c == 0 else 116
        right = 31 if c == 4 else 36
        bottom = 115 if r == 2 else 77
        p = figure(x_axis_type="log", y_axis_type="log",
                   x_range=log_range(xs_all), y_range=log_range(ys_all),
                   frame_width=FRAME_W, frame_height=FRAME_H,
                   min_border_left=left, min_border_right=right,
                   min_border_top=100, min_border_bottom=bottom,
                   output_backend="svg", toolbar_location=None,
                   title=TITLES[i], background_fill_color="white",
                   border_fill_color="white")
        p.title.text_font = FONT
        p.title.text_font_size = "44px"
        p.title.text_font_style = "normal"
        p.title.text_color = "black"
        p.title.align = "center"
        p.title.standoff = 42
        p.xgrid.visible = False
        p.ygrid.visible = False
        p.outline_line_color = "black"
        p.outline_line_width = 3
        p.outline_line_alpha = 1.0

        p.xaxis.ticker = FixedTicker(ticks=X_TICKS)
        p.xaxis.formatter = bytes_formatter()
        p.yaxis.ticker = FixedTicker(ticks=Y_TICKS[i])
        p.yaxis.formatter = LogTickFormatter()
        for ax in p.xaxis:
            style_axis(ax)
            ax.major_label_standoff = 10
        for ax in p.yaxis:
            style_axis(ax)
            ax.major_label_standoff = 32
        if c == 0:
            p.yaxis.axis_label = "Time (s)"
            p.yaxis.axis_label_text_font = LABEL_FONT
            p.yaxis.axis_label_text_font_size = "34px"
            p.yaxis.axis_label_text_font_style = "normal"
            p.yaxis.axis_label_standoff = 16
        if r == 2:
            p.xaxis.axis_label = "Memory usage (bytes)"
            p.xaxis.axis_label_text_font = LABEL_FONT
            p.xaxis.axis_label_text_font_size = "34px"
            p.xaxis.axis_label_text_font_style = "normal"
            p.xaxis.axis_label_standoff = 16

        top_ax = LogAxis(ticker=FixedTicker(ticks=X_TICKS))
        style_axis(top_ax, labels=False)
        p.add_layout(top_ax, "above")
        right_ax = LogAxis(ticker=FixedTicker(ticks=Y_TICKS[i]))
        style_axis(right_ax, labels=False)
        p.add_layout(right_ax, "right")

        for k, (X, Y, LO, HI) in enumerate(DATA):
            p.varea(x=X[i], y1=LO[i], y2=HI[i], fill_color=COLORS[k], fill_alpha=0.22)
            p.line(x=X[i], y=Y[i], line_color=COLORS[k], line_width=5.5)
        row.append(p)
    rows.append(row)

grid = gridplot(rows, toolbar_location=None)

# legend strip
lf = figure(width=2931, height=117, x_range=Range1d(0, 1), y_range=Range1d(0, 1),
            x_axis_location=None, y_axis_location=None, min_border=0,
            output_backend="svg", toolbar_location=None,
            background_fill_color="white", border_fill_color="white")
lf.outline_line_color = None
lf.xgrid.visible = False
lf.ygrid.visible = False
items = []
for k, name in enumerate(SERIES):
    rr = lf.line(x=[0, 0], y=[-1, -1], line_color=COLORS[k], line_width=6)
    items.append(LegendItem(label=name, renderers=[rr]))
legend = Legend(items=items, orientation="horizontal", location=(761, 61),
                label_text_font=FONT, label_text_font_size="38px",
                glyph_width=75, glyph_height=44, label_standoff=36, spacing=79,
                padding=0, margin=0, border_line_color=None,
                background_fill_alpha=0.0)
lf.add_layout(legend)

layout = column(lf, grid)
open("out.html", "w").write(file_html(layout, INLINE))
